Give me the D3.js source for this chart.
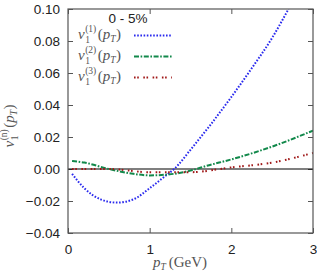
<!DOCTYPE html>
<html lang="en">
<head>
<meta charset="UTF-8">
<title>v1 pT</title>
<style>
    body{ margin:0; background:#fff; }
    svg{ display:block; }
    .tick text{ font-family: "Liberation Sans", Arial, sans-serif; font-size: 13.5px; fill:#222; }
    .math text{ font-family: "Liberation Serif", "DejaVu Serif", serif; fill:#555; }
</style>
<script src="https://cdn.jsdelivr.net/npm/d3@7"></script>
</head>
<body>
<script>
    const xTicks = [0, 1, 2, 3];
    const yTicks = [-0.04, -0.02, 0.00, 0.02, 0.04, 0.06, 0.08, 0.10];

    const pt1 = [0.05, 0.2, 0.4, 0.6, 0.8, 1.0, 1.2, 1.3, 1.5, 1.75, 2.0, 2.25, 2.5, 2.7];
    const v1_1 = [-0.003, -0.012, -0.019, -0.021, -0.019, -0.012, -0.004, 0.000, 0.012, 0.028, 0.045, 0.063, 0.082, 0.100];

    const pt2 = [0.05, 0.2, 0.5, 0.8, 1.0, 1.3, 1.5, 1.7, 2.0, 2.5, 3.0];
    const v1_2 = [0.005, 0.004, 0.000, -0.003, -0.004, -0.003, -0.001, 0.002, 0.006, 0.014, 0.024];

    const pt3 = [0.05, 0.5, 1.0, 1.5, 2.0, 2.5, 3.0];
    const v1_3 = [0.000, 0.000, -0.002, -0.002, 0.001, 0.004, 0.010];

    const width = 317, height = 277;
    const margins = {top: 9, right: 4, bottom: 44, left: 68};

    const svg = d3.select("body").append("svg")
        .attr("width", width).attr("height", height);

    const x = d3.scaleLinear().domain([0, 3]).range([margins.left, width - margins.right]);
    const y = d3.scaleLinear().domain([-0.04, 0.10]).range([height - margins.bottom, margins.top]);

    const frame = "#555";

    // axes with inward ticks, mirrored
    const gx = svg.append("g").attr("transform", `translate(0,${height - margins.bottom})`)
        .call(d3.axisBottom(x).tickValues(xTicks).tickFormat(d3.format("d")).tickSizeInner(-5).tickSizeOuter(0).tickPadding(11));
    const gy = svg.append("g").attr("transform", `translate(${margins.left},0)`)
        .call(d3.axisLeft(y).tickValues(yTicks).tickFormat(d3.format(".2f")).tickSizeInner(-5).tickSizeOuter(0).tickPadding(8));
    const gx2 = svg.append("g").attr("transform", `translate(0,${margins.top})`)
        .call(d3.axisTop(x).tickValues(xTicks).tickFormat("").tickSizeInner(-5).tickSizeOuter(0));
    const gy2 = svg.append("g").attr("transform", `translate(${width - margins.right},0)`)
        .call(d3.axisRight(y).tickValues(yTicks).tickFormat("").tickSizeInner(-5).tickSizeOuter(0));
    [gx, gy, gx2, gy2].forEach(g => {
        g.select(".domain").remove();
        g.selectAll(".tick line").attr("stroke", frame);
    });

    // zero line
    svg.append("line")
        .attr("x1", x(0)).attr("x2", x(3)).attr("y1", y(0)).attr("y2", y(0))
        .attr("stroke", "#000").attr("stroke-width", 1.2);

    svg.append("clipPath").attr("id", "clip").append("rect")
        .attr("x", margins.left).attr("y", margins.top)
        .attr("width", width - margins.left - margins.right)
        .attr("height", height - margins.top - margins.bottom);

    const series = [
        {pt: pt1, v: v1_1, color: "#2a2aee", dash: "1.6,1.6", n: "(1)"},
        {pt: pt2, v: v1_2, color: "#11884a", dash: "5,1.6,1.6,1.6", n: "(2)"},
        {pt: pt3, v: v1_3, color: "#a01818", dash: "1.6,1.6,1.6,4.5", n: "(3)"}
    ];

    const line = d3.line().x(d => x(d[0])).y(d => y(d[1])).curve(d3.curveMonotoneX);

    svg.append("g").attr("clip-path", "url(#clip)")
        .selectAll("path").data(series).enter().append("path")
        .attr("d", s => line(s.pt.map((p, i) => [p, s.v[i]])))
        .attr("fill", "none")
        .attr("stroke", s => s.color)
        .attr("stroke-width", 2)
        .attr("stroke-dasharray", s => s.dash);

    // frame
    svg.append("rect")
        .attr("x", margins.left).attr("y", margins.top)
        .attr("width", width - margins.left - margins.right)
        .attr("height", height - margins.top - margins.bottom)
        .attr("fill", "none").attr("stroke", frame).attr("stroke-width", 1.2);

    // small helper: place pieces of a math label one after another
    function piece(g, cx, txt, opt) {
        const t = g.append("text").attr("x", cx).attr("y", opt.dy || 0)
            .style("font-size", (opt.size || 15) + "px")
            .style("font-style", opt.italic ? "italic" : "normal")
            .text(txt);
        return cx + t.node().getComputedTextLength();
    }
    // v_1^{sup}(p_T)
    function vLabel(g, sup) {
        let cx = piece(g, 0, "v", {italic: true});
        const a = piece(g, cx + 0.5, sup, {size: 9.5, dy: -7});
        piece(g, cx + 0.5, "1", {size: 9.5, dy: 3.5});
        cx = a + 1.5;
        cx = piece(g, cx, "(", {});
        cx = piece(g, cx, "p", {italic: true});
        cx = piece(g, cx, "T", {italic: true, size: 9.5, dy: 3});
        piece(g, cx + 0.5, ")", {});
    }

    // legend
    svg.append("text").attr("x", 128).attr("y", 23)
        .attr("text-anchor", "middle")
        .style("font-family", "Liberation Sans, Arial, sans-serif").style("font-size", "13.5px").attr("fill", "#222")
        .text("0 - 5%");

    const leg = svg.append("g").selectAll("g").data(series).enter().append("g")
        .attr("transform", (d, i) => `translate(0,${39 + i * 21})`);
    leg.append("line")
        .attr("x1", 134).attr("x2", 172).attr("y1", -3.5).attr("y2", -3.5)
        .attr("stroke", d => d.color).attr("stroke-width", 2)
        .attr("stroke-dasharray", d => d.dash);
    leg.append("g").attr("class", "math").attr("transform", "translate(78,0)")
        .each(function(d) { vLabel(d3.select(this), d.n); });

    // y label
    const yl = svg.append("g").attr("class", "math");
    vLabel(yl, "(n)");
    const yw = yl.node().getBBox().width;
    yl.attr("transform", `translate(14,${126 + yw / 2}) rotate(-90)`);

    // x label
    const xl = svg.append("g").attr("class", "math").attr("transform", "translate(153,267)");
    let cx = piece(xl, 0, "p", {italic: true});
    cx = piece(xl, cx, "T", {italic: true, size: 9.5, dy: 3});
    piece(xl, cx + 3, "(GeV)", {});
</script>
</body>
</html>
